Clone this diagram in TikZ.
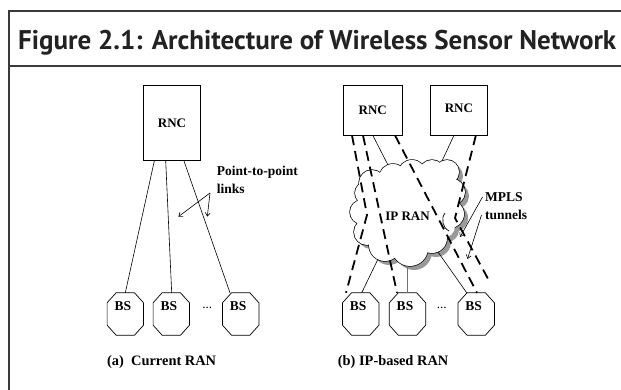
\documentclass[tikz,border=0pt]{standalone}
\usepackage{fontspec}
\usepackage{graphicx}
\setmainfont{Liberation Serif}
\newfontfamily\titlefont{PT Sans}
\usetikzlibrary{arrows.meta}
\definecolor{titlegray}{HTML}{222222}
\definecolor{framegray}{HTML}{3A3A3A}
\begin{document}
\begin{tikzpicture}[x=1pt,y=-1pt,
  frameline/.style={draw=framegray,line width=1.6pt},
  sepline/.style={draw=framegray,line width=1.1pt},
  box/.style={draw,line width=0.7pt,inner sep=0,font=\fontsize{13}{15}\selectfont\bfseries},
  bs/.style={inner sep=0,minimum width=36pt,text height=17pt,text depth=25pt,font=\fontsize{13.5}{15}\selectfont\bfseries},
  bsline/.style={line width=0.7pt},
  link/.style={line width=0.6pt},
  tunnel/.style={line width=1.8pt,dash pattern=on 10pt off 6pt},
  lbl/.style={inner sep=0,anchor=base west,font=\fontsize{13.5}{16}\selectfont\bfseries},
  caption/.style={inner sep=0,anchor=base west,font=\fontsize{14.4}{16}\selectfont\bfseries},
  ptr/.style={line width=0.6pt,-{Straight Barb[length=3.5pt,width=5pt]}},
  dots/.style={inner sep=0,anchor=base,font=\fontsize{13}{15}\selectfont}
]
\useasboundingbox (0,0) rectangle (621,390);
\fill[white] (0,0) rectangle (621,390);

% frame and title
\draw[frameline] (9,390) -- (9,11) -- (621,11);
\draw[sepline] (9,66) -- (621,66);
\node[anchor=base west,inner sep=0,text=titlegray] (title) at (18,50)
  {\resizebox{598pt}{\height}{\titlefont\bfseries\fontsize{27}{30}\selectfont Figure 2.1: Architecture of Wireless Sensor Network}};

% ---------- (a) current RAN ----------
\node[box,minimum width=57.4pt,minimum height=75.7pt] (rncL) at (172,122.85) {RNC};
\node[bs] (bl1) at (125.3,314) {BS\hspace*{5pt}};
\node[bs] (bl2) at (171.3,314) {BS\hspace*{5pt}};
\node[bs] (bl3) at (240.7,314) {BS\hspace*{5pt}};
\node[dots] (dl) at (207.3,308) {...};

\draw[link] ([xshift=-17.7pt]rncL.south) -- (bl1.north);
\draw[link] ([xshift=-6.3pt]rncL.south) -- ([xshift=0.4pt]bl2.north);
\draw[link] ([xshift=12pt]rncL.south) -- ([xshift=-10.7pt]bl3.north);

\node[lbl] (ptp) at (216.7,176) {Point-to-point};
\node[lbl] (lnk) at (216.7,193.5) {links};
\coordinate (p0) at (210,193);
\coordinate (p1) at (178.3,216.7);
\coordinate (p2) at (207.3,216.7);
\draw[ptr] (p0) -- (p1);
\draw[ptr] (p0) -- (p2);

\node[caption] (capa) at (107,365.5) {(a)\ \ Current RAN};

% ---------- (b) IP-based RAN ----------
\node[box,minimum width=59pt,minimum height=50pt] (rnc1) at (372.8,110) {RNC};
\node[box,minimum width=57.7pt,minimum height=50pt] (rnc2) at (458.9,110) {\raisebox{3pt}{RNC}};
\node[bs] (br1) at (360.7,314) {BS\hspace*{5pt}};
\node[bs] (br2) at (407.5,314) {BS\hspace*{5pt}};
\node[bs] (br3) at (476.2,314) {BS\hspace*{5pt}};
\node[dots] (dr) at (441.7,308) {...};

% octagons
\foreach \n in {bl1,bl2,bl3,br1,br2,br3}{
  \draw[bsline] ([xshift=9pt]\n.north west) -- ([xshift=-9pt]\n.north east)
    -- ([yshift=-10pt]\n.north east) -- ([yshift=10pt]\n.south east)
    -- ([xshift=-9pt]\n.south east) -- ([xshift=9pt]\n.south west)
    -- ([yshift=10pt]\n.south west) -- ([yshift=-10pt]\n.north west) -- cycle;
}

% cloud
\def\bumps{(372,183) circle[radius=13] (393,178) circle[radius=14] (412,174) circle[radius=14]
  (432,173) circle[radius=13] (447,172) circle[radius=12] (452,192) circle[radius=13]
  (450,214) circle[radius=14] (432,238) circle[radius=15] (410,248) circle[radius=18]
  (385,245) circle[radius=16] (367,232) circle[radius=13] (362,212) circle[radius=12]
  (366,193) circle[radius=11]}
\def\core{(408,208) circle[radius=38] (440,187) circle[radius=12] (376,190) circle[radius=12]
  (372,222) circle[radius=12] (443,226) circle[radius=12] (400,180) circle[radius=12]
  (425,180) circle[radius=12] (395,240) circle[radius=12] (422,240) circle[radius=12]}
\fill[black!40,shift={(4,4)}] \bumps \core;
\draw[line width=1.4pt] \bumps;
\fill[white] \bumps \core;
\draw[line width=0.7pt] (445,213) to[bend right=50] (449,231);

\coordinate (c1) at (388,165);
\coordinate (c2) at (442,161);
\coordinate (c3) at (378,259);
\coordinate (c4) at (407.5,266);
\coordinate (c5) at (438,252);
\coordinate (k1) at (367,215);
\coordinate (k2) at (455,218);

\draw[link] (rnc1.south) -- (c1);
\draw[link] ([xshift=-4.9pt]rnc2.south) -- (c2);
\draw[link] (c3) -- ([xshift=1pt]br1.north);
\draw[link,draw=black!55] (c4) -- (br2.north);
\draw[link] (c5) -- ([xshift=-9.5pt]br3.north);

\draw[tunnel] ([xshift=-20.8pt]rnc1.south) -- (k1) -- ([xshift=-14.7pt]br1.north);
\draw[tunnel] ([xshift=-9.8pt]rnc1.south) -- ([xshift=-10.5pt]br2.north);
\draw[tunnel] ([xshift=22.2pt]rnc1.south) -- ([xshift=0.8pt]br3.north);
\draw[tunnel] ([xshift=17pt]rnc2.south) -- (k2) -- ([xshift=14pt,yshift=10pt]br3.north);

\node[inner sep=1pt,font=\fontsize{13}{15}\selectfont\bfseries] (cloud) at (407.5,216) {IP RAN};

\node[lbl] (mpls) at (485,201.5) {MPLS};
\node[lbl] (tun) at (485,220) {tunnels};
\coordinate (m0) at (482.5,197);
\coordinate (m1) at (460,237);
\coordinate (t0) at (481.5,215);
\coordinate (t1) at (467.5,259);
\draw[ptr] (m0) -- (m1);
\draw[ptr] (t0) -- (t1);

\node[caption] (capb) at (337.7,365.5) {(b) IP-based RAN};
\end{tikzpicture}
\end{document}
